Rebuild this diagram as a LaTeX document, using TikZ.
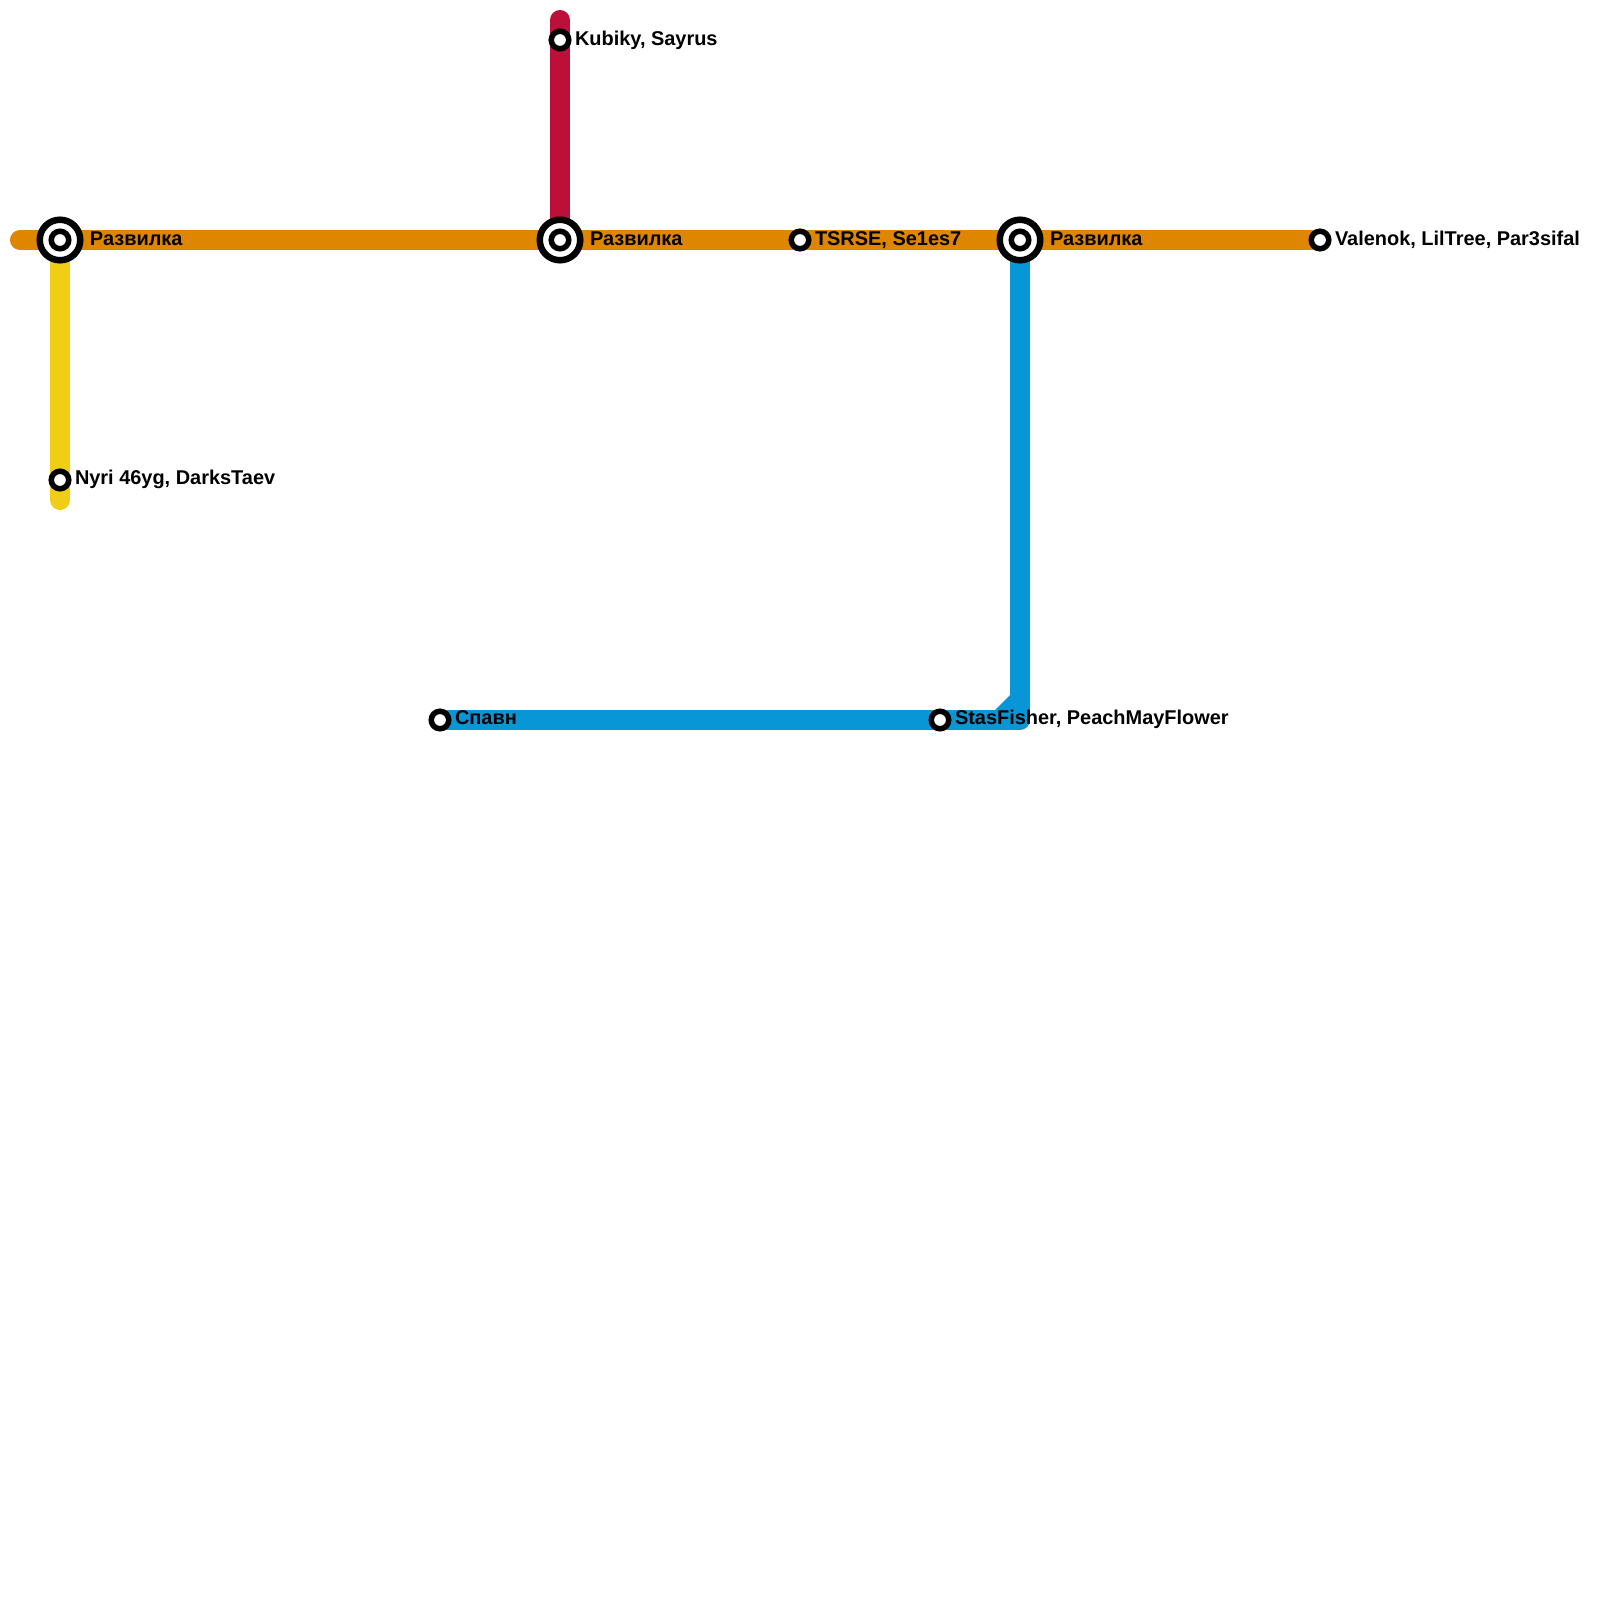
\documentclass[tikz,border=0pt]{standalone}
\usepackage{fontspec}
\setmainfont{Liberation Sans}
\definecolor{lineorange}{HTML}{DF8600}
\definecolor{lineyellow}{HTML}{F0CE15}
\definecolor{linered}{HTML}{BD1038}
\definecolor{lineblue}{HTML}{0896D7}
\tikzset{
  x=0.01cm,y=-0.01cm,
  metro/.style={line width=0.2cm,line cap=round,line join=round},
  smallstn/.style={circle,draw=black,fill=white,line width=0.055cm,minimum size=0.175cm,inner sep=0pt,outer sep=0pt},
  bigstn/.style={circle,draw=black,fill=white,line width=0.065cm,minimum size=0.405cm,inner sep=0pt,outer sep=0pt},
  stnlabel/.style={anchor=base west,inner sep=0pt,outer sep=0pt,font=\fontsize{5.67pt}{6.5pt}\selectfont\bfseries,text=black},
}
\begin{document}
\begin{tikzpicture}
\useasboundingbox[fill=white] (0,0) rectangle (1600,1600);
% station anchors
\coordinate (oStart) at (20,240);
\coordinate (a1) at (60,240);
\coordinate (a2) at (560,240);
\coordinate (a3) at (800,240);
\coordinate (a4) at (1020,240);
\coordinate (a5) at (1320,240);
\coordinate (r1) at (560,40);
\coordinate (rEnd) at (560,20);
\coordinate (y1) at (60,480);
\coordinate (yEnd) at (60,500);
\coordinate (b1) at (440,720);
\coordinate (b2) at (940,720);
\coordinate (bCorner) at (1020,720);
% lines
\draw[metro,lineyellow] (a1) -- (yEnd);
\draw[metro,linered] (rEnd) -- (a2);
\draw[metro,lineblue] (a4) -- (bCorner) -- (b1);
\fill[lineblue] (1011,694) -- (1011,711) -- (994,711) -- cycle;
\draw[metro,lineorange] (oStart) -- (a5);
% interchange stations
\foreach \n/\p in {i1/a1,i2/a2,i3/a4}{
  \node[bigstn] (\n) at (\p) {};
  \node[smallstn] (\n c) at (\p) {};
}
% plain stations
\foreach \n/\p in {s1/r1,s2/y1,s3/a3,s4/a5,s5/b1,s6/b2}{
  \node[smallstn] (\n) at (\p) {};
}
% labels
\node[stnlabel] (l1) at (90,245.5) {Развилка};
\node[stnlabel] (l2) at (590,245.5) {Развилка};
\node[stnlabel] (l3) at (1050,245.5) {Развилка};
\node[stnlabel] (l4) at (575,45.5) {Kubiky, Sayrus};
\node[stnlabel] (l5) at (75,484.5) {Nyri 46yg, DarksTaev};
\node[stnlabel] (l6) at (815,245.5) {TSRSE, Se1es7};
\node[stnlabel] (l7) at (1335,245.5) {Valenok, LilTree, Par3sifal};
\node[stnlabel] (l8) at (455,724.5) {Спавн};
\node[stnlabel] (l9) at (955,724.5) {StasFisher, PeachMayFlower};
\end{tikzpicture}
\end{document}
